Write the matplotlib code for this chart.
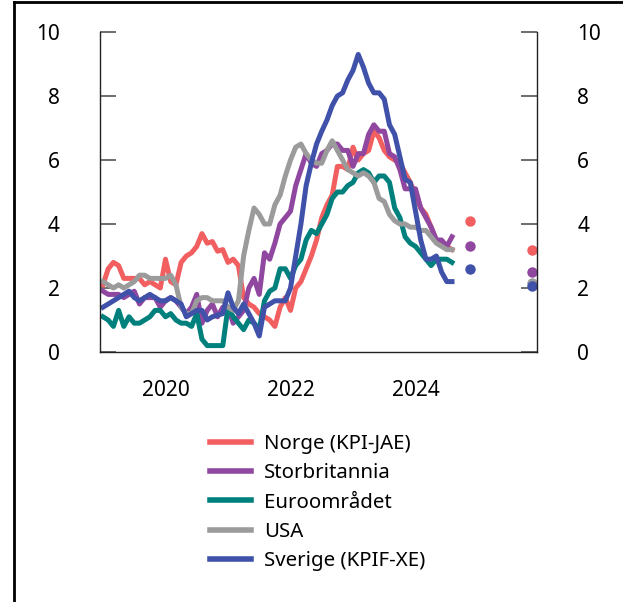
import numpy as np
import matplotlib
matplotlib.use("Agg")
import matplotlib.pyplot as plt
from matplotlib.lines import Line2D

plt.rcParams['font.family'] = ['Noto Sans', 'DejaVu Sans']

# Monthly core inflation, Jan 2019 - Aug 2024 (percent, y/y)
start_year = 2019
norge = [2.1, 2.6, 2.8, 2.7, 2.3, 2.3, 2.3, 2.3, 2.1, 2.2, 2.1, 2.0,
         2.9, 2.2, 2.1, 2.8, 3.0, 3.1, 3.3, 3.7, 3.4, 3.45, 3.15, 3.2,
         2.8, 2.9, 2.7, 1.7, 1.5, 1.4, 1.2, 1.1, 1.0, 0.8, 1.4, 1.7,
         1.3, 2.0, 2.2, 2.6, 3.0, 3.5, 4.2, 4.6, 4.9, 5.8, 5.8, 5.7,
         6.4, 6.0, 6.2, 6.3, 6.9, 6.7, 6.3, 6.1, 6.0, 5.9, 5.6, 5.3,
         4.9, 4.5, 4.3, 3.9, 3.5, 3.4, 3.3, 3.2]
storbritannia = [1.9, 1.8, 1.8, 1.8, 1.7, 1.8, 1.9, 1.5, 1.7, 1.7, 1.7, 1.4,
                 1.6, 1.7, 1.6, 1.4, 1.2, 1.4, 1.8, 0.9, 1.3, 1.5, 1.1, 1.4,
                 1.4, 0.9, 1.1, 1.3, 2.0, 2.3, 1.8, 3.1, 2.9, 3.4, 4.0, 4.2,
                 4.4, 5.2, 5.7, 6.2, 5.9, 5.8, 6.2, 6.3, 6.5, 6.5, 6.3, 6.3,
                 5.8, 6.2, 6.2, 6.8, 7.1, 6.9, 6.9, 6.2, 6.1, 5.7, 5.1, 5.1,
                 5.1, 4.5, 4.2, 3.9, 3.5, 3.5, 3.3, 3.6]
euroomradet = [1.1, 1.0, 0.8, 1.3, 0.8, 1.1, 0.9, 0.9, 1.0, 1.1, 1.3, 1.3,
               1.1, 1.2, 1.0, 0.9, 0.9, 0.8, 1.2, 0.4, 0.2, 0.2, 0.2, 0.2,
               1.4, 1.1, 0.9, 0.7, 1.0, 0.9, 0.7, 1.6, 1.9, 2.0, 2.6, 2.6,
               2.3, 2.7, 2.9, 3.5, 3.8, 3.7, 4.0, 4.3, 4.8, 5.0, 5.0, 5.2,
               5.3, 5.6, 5.7, 5.6, 5.3, 5.5, 5.5, 5.3, 4.5, 4.2, 3.6, 3.4,
               3.3, 3.1, 2.9, 2.7, 2.9, 2.9, 2.9, 2.8]
usa = [2.2, 2.1, 2.0, 2.1, 2.0, 2.1, 2.2, 2.4, 2.4, 2.3, 2.3, 2.3,
       2.3, 2.4, 2.1, 1.4, 1.2, 1.2, 1.6, 1.7, 1.7, 1.6, 1.6, 1.6,
       1.4, 1.3, 1.6, 3.0, 3.8, 4.5, 4.3, 4.0, 4.0, 4.6, 4.9, 5.5,
       6.0, 6.4, 6.5, 6.2, 6.0, 5.9, 5.9, 6.3, 6.6, 6.3, 6.0, 5.7,
       5.6, 5.5, 5.6, 5.5, 5.3, 4.8, 4.7, 4.3, 4.1, 4.0, 4.0, 3.9,
       3.9, 3.8, 3.8, 3.6, 3.4, 3.3, 3.2, 3.2]
sverige = [1.4, 1.5, 1.6, 1.7, 1.8, 1.9, 1.7, 1.6, 1.7, 1.8, 1.7, 1.6,
           1.6, 1.7, 1.6, 1.5, 1.1, 1.2, 1.3, 1.3, 1.0, 1.1, 1.15, 1.2,
           1.85, 1.4, 1.2, 1.5, 1.2, 0.9, 0.5, 1.4, 1.5, 1.6, 1.6, 1.6,
           2.0, 3.0, 4.0, 5.2, 5.9, 6.5, 6.9, 7.25, 7.7, 8.0, 8.1, 8.5,
           8.8, 9.3, 8.9, 8.4, 8.1, 8.1, 7.9, 7.1, 6.8, 6.1, 5.4, 5.3,
           4.4, 3.5, 2.9, 2.9, 3.0, 2.5, 2.2, 2.2]

# Forecast dots (annual), shown to the right of the lines
forecast_years = [2025, 2026]
norge_fc = [4.1, 3.2]
storbritannia_fc = [3.3, 2.5]
usa_fc = [None, 2.15]
sverige_fc = [2.6, 2.05]

labels = ["Norge (KPI-JAE)", "Storbritannia", "Euroområdet", "USA", "Sverige (KPIF-XE)"]
colors = ["#f15f61", "#8f47a0", "#00807c", "#9b9b9b", "#3f51a9"]

months = np.arange(len(norge))
x = start_year + months / 12.0

fig = plt.figure(figsize=(6.23, 6.02), dpi=100)
ax = fig.add_axes([0.1605, 0.4153, 0.7015, 0.5315])

series = [norge, storbritannia, euroomradet, usa, sverige]
for vals, col, lab in zip(series, colors, labels):
    ax.plot(x, vals, color=col, lw=3.6, label=lab)

fc_x = np.array(forecast_years) - 0.13
fc_series = [(norge_fc, colors[0]), (storbritannia_fc, colors[1]),
             (usa_fc, colors[3]), (sverige_fc, colors[4])]
for vals, col in fc_series:
    for xx, v in zip(fc_x, vals):
        if v is not None:
            ax.plot(xx, v, 'o', color=col, ms=7.5, mec='none', clip_on=False)

ax.set_xlim(2018.952, 2025.944)
ax.set_ylim(0, 10)
ax.set_xticks([2020, 2022, 2024])
ax.set_xticklabels(["2020", "2022", "2024"])
ax.set_yticks([0, 2, 4, 6, 8, 10])

ax.spines['top'].set_visible(False)
for s in ['left', 'right', 'bottom']:
    ax.spines[s].set_color('#222222')
    ax.spines[s].set_linewidth(1.0)

ax.tick_params(axis='y', direction='in', length=11.5, width=1.2, color='#555555',
               labelsize=15, pad=29, left=True, right=True,
               labelleft=True, labelright=True)
ax.tick_params(axis='x', length=0, labelsize=15, pad=20)

leg = fig.legend(loc='upper left', bbox_to_anchor=(0.3235, 0.293), frameon=False,
                 fontsize=14.7, handlelength=2.0, handletextpad=0.65,
                 labelspacing=0.46, borderaxespad=0)
for h in leg.get_lines():
    h.set_linewidth(4)

# frame lines at top and left of the figure
fig.add_artist(Line2D([0.0225, 0.0225], [0, 0.997], color='black', lw=2,
                      transform=fig.transFigure))
fig.add_artist(Line2D([0.0225, 1], [0.997, 0.997], color='black', lw=2,
                      transform=fig.transFigure))

fig.savefig("out.png", dpi=100)
